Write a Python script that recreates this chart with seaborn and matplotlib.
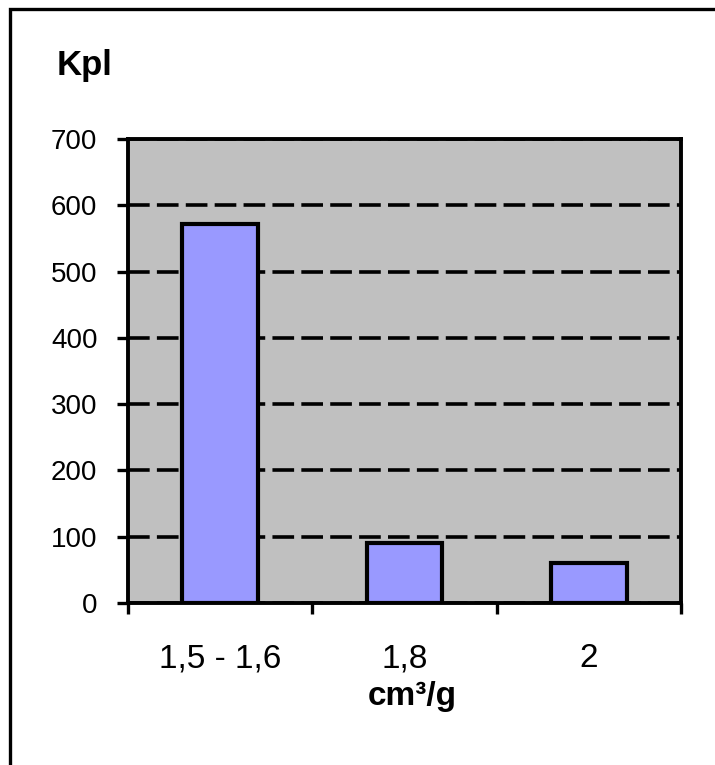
import matplotlib
matplotlib.use("Agg")
import matplotlib.pyplot as plt
import matplotlib.patches as mpatches
import seaborn as sns
import pandas as pd

# Bulk volume classes and their counts
categories = ["1,5 - 1,6", "1,8", "2"]
counts = [572, 90, 60]
y_ticks = [0, 100, 200, 300, 400, 500, 600, 700]

sns.set_theme(style="white")
plt.rcParams["font.family"] = ["Liberation Sans", "DejaVu Sans"]
plt.rcParams.update({"text.color": "black", "axes.labelcolor": "black",
                     "xtick.color": "black", "ytick.color": "black"})

W, H = 715, 765
fig = plt.figure(figsize=(W / 100, H / 100), dpi=100)
ax = fig.add_axes([128 / W, 1 - 603 / H, (681 - 128) / W, (603 - 139) / H])

df = pd.DataFrame({"volume": categories, "kpl": counts})
sns.barplot(data=df, x="volume", y="kpl", ax=ax, width=0.41,
            color="#9999FF", saturation=1, edgecolor="black", linewidth=3.0,
            zorder=3)

ax.set_facecolor("#C0C0C0")
ax.set_ylim(0, 700)
ax.set_xlim(-0.5, len(categories) - 0.5)
ax.set_yticks(y_ticks)
ax.set_yticklabels([str(v) for v in y_ticks], fontsize=20, color="black")

# Category labels centred on bars, ticks on the category boundaries
ax.set_xticks(range(len(categories)))
ax.set_xticklabels(categories, fontsize=24, color="black")
ax.tick_params(axis="x", length=0, pad=29)
ax.set_xticks([i - 0.5 for i in range(len(categories) + 1)], minor=True)
ax.tick_params(axis="x", which="minor", direction="out", length=8, width=2.4,
               color="black", bottom=True)
ax.tick_params(axis="y", direction="out", length=8, width=2.4, color="black",
               left=True, pad=14, labelsize=20)

ax.yaxis.grid(True, color="black", linewidth=2.6, linestyle=(0, (6, 2)))
ax.xaxis.grid(False)
ax.set_axisbelow(True)
for side in ["left", "right", "top", "bottom"]:
    ax.spines[side].set_visible(True)
    ax.spines[side].set_color("black")
    ax.spines[side].set_linewidth(2.8)
    ax.spines[side].set_zorder(4)

ax.set_xlabel("")
ax.set_ylabel("")
fig.text(412 / W, 1 - 697 / H, "cm³/g", fontsize=24, color="black",
         fontweight="bold", ha="center", va="center")
fig.text(57 / W, 1 - 66 / H, "Kpl", fontsize=25, fontweight="bold",
         color="black", ha="left", va="center")

# Chart frame
fig.add_artist(mpatches.Rectangle((10 / W, -0.2), 2, 1.2 - 9 / H, fill=False,
                                  edgecolor="black", linewidth=2.4,
                                  transform=fig.transFigure, clip_on=False))

fig.savefig("out.png", dpi=100, facecolor="white")
